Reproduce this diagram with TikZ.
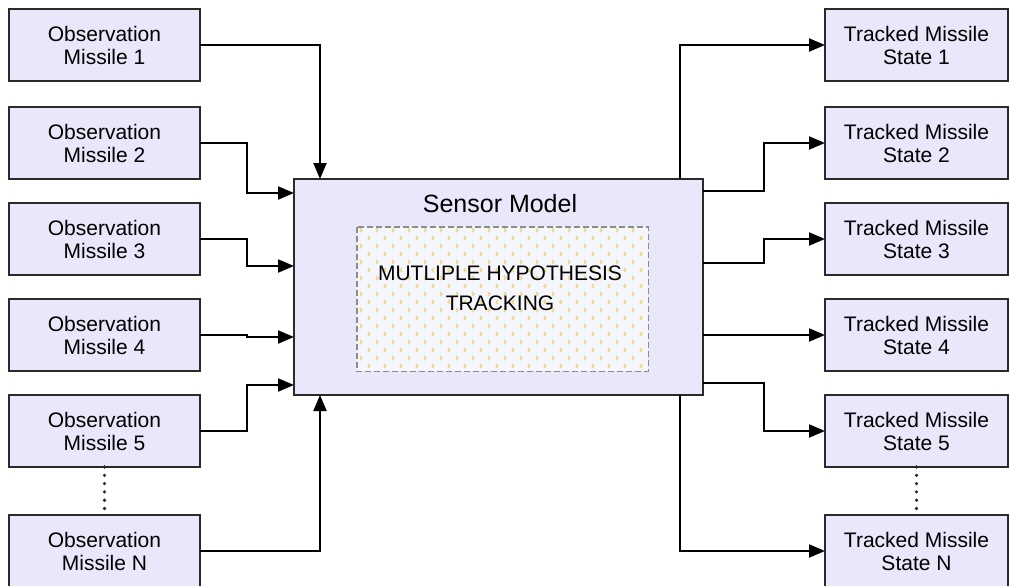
\documentclass[tikz,border=0pt]{standalone}
\usepackage{fontspec}
\setmainfont{Liberation Sans}
\usepackage{tikz}
\usetikzlibrary{arrows.meta, positioning, calc}
\definecolor{boxfill}{HTML}{E8E8FA}
\definecolor{boxline}{HTML}{2A2A2A}
\definecolor{hatchfill}{HTML}{F5F5FC}
\definecolor{hatchmark}{HTML}{F2D46A}
\definecolor{hatchline}{HTML}{8C8C8C}

\begin{document}
\begin{tikzpicture}[
    x=1pt, y=-1pt,
    node distance=24pt,
    io/.style={rectangle, draw=boxline, fill=boxfill, line width=2pt,
               minimum width=#1, minimum height=72pt, align=center,
               font=\fontsize{21}{23}\selectfont, inner sep=2pt, outer sep=0pt},
    io/.default=191pt,
    flow/.style={draw=black, line width=2pt, -{Triangle[length=16pt, width=13pt]}},
    gap/.style={draw=boxline, line width=3.6pt, line cap=round, dash pattern=on 0pt off 8.3pt}
]
    \useasboundingbox (0,0) rectangle (1009,586);

    % observation inputs
    \node[io] (obs1) at (104.5,45) {Observation\\Missile 1};
    \node[io, below=26pt of obs1] (obs2) {Observation\\Missile 2};
    \node[io, below=of obs2] (obs3) {Observation\\Missile 3};
    \node[io, below=of obs3] (obs4) {Observation\\Missile 4};
    \node[io, below=of obs4] (obs5) {Observation\\Missile 5};
    \node[io, below=48pt of obs5] (obsN) {Observation\\Missile N};

    % tracked outputs
    \node[io=183pt] (trk1) at (916.5,45) {Tracked Missile\\State 1};
    \node[io=183pt, below=26pt of trk1] (trk2) {Tracked Missile\\State 2};
    \node[io=183pt, below=of trk2] (trk3) {Tracked Missile\\State 3};
    \node[io=183pt, below=of trk3] (trk4) {Tracked Missile\\State 4};
    \node[io=183pt, below=of trk4] (trk5) {Tracked Missile\\State 5};
    \node[io=183pt, below=48pt of trk5] (trkN) {Tracked Missile\\State N};

    \draw[gap] (obs5.south) -- (obsN.north);
    \draw[gap] (trk5.south) -- (trkN.north);

    % sensor block with the tracking core
    \node[rectangle, draw=boxline, fill=boxfill, line width=2pt, outer sep=0pt,
          minimum width=409pt, minimum height=216pt] (sensor) at (498.5,287) {};
    \node[font=\fontsize{25}{28}\selectfont] (title) at (500,204) {Sensor Model};
    \node[rectangle, fill=hatchfill, minimum width=291pt, minimum height=144pt,
          inner sep=0pt] (mht) at (502.5,299) {};
    \begin{scope}
        \clip (mht.north west) rectangle (mht.south east);
        \foreach \row in {0,...,18} {
            \foreach \col in {0,...,18} {
                \pgfmathsetmacro{\px}{360+16*\col+8*mod(\row,2)}
                \pgfmathsetmacro{\py}{230+8*\row}
                \ifodd\row
                    \draw[hatchmark, line width=1.2pt] (\px+2,\py-2) -- (\px,\py) -- (\px+2,\py+2);
                \else
                    \draw[hatchmark, line width=1.2pt] (\px,\py-2) -- (\px+2,\py) -- (\px,\py+2);
                \fi
            }
        }
    \end{scope}
    \draw[hatchline, line width=1.4pt, dash pattern=on 6pt off 3pt]
        (mht.north west) rectangle (mht.south east);
    \node[align=center, font=\fontsize{21}{30}\selectfont] (mhtlabel) at (500,288)
        {MUTLIPLE HYPOTHESIS\\TRACKING};

    % inputs into the sensor
    \draw[flow] (obs1.east) -| ([xshift=26pt]sensor.north west);
    \draw[flow] (obs2.east) -- ++(47,0) |- ([yshift=-14pt]sensor.north west);
    \draw[flow] (obs3.east) -- ++(47,0) |- ([yshift=-87pt]sensor.north west);
    \draw[flow] (obs4.east) -- ++(47,0) |- ([yshift=-158pt]sensor.north west);
    \draw[flow] (obs5.east) -- ++(47,0) |- ([yshift=10pt]sensor.south west);
    \draw[flow] (obsN.east) -| ([xshift=26pt]sensor.south west);

    % outputs from the sensor
    \draw[flow] ([xshift=-23pt]sensor.north east) |- (trk1.west);
    \draw[flow] ([yshift=-12pt]sensor.north east) -- ++(61,0) |- (trk2.west);
    \draw[flow] ([yshift=-84pt]sensor.north east) -- ++(61,0) |- (trk3.west);
    \draw[flow] ([yshift=-156pt]sensor.north east) -- ++(61,0) |- (trk4.west);
    \draw[flow] ([yshift=12pt]sensor.south east) -- ++(61,0) |- (trk5.west);
    \draw[flow] ([xshift=-23pt]sensor.south east) |- (trkN.west);
\end{tikzpicture}
\end{document}
